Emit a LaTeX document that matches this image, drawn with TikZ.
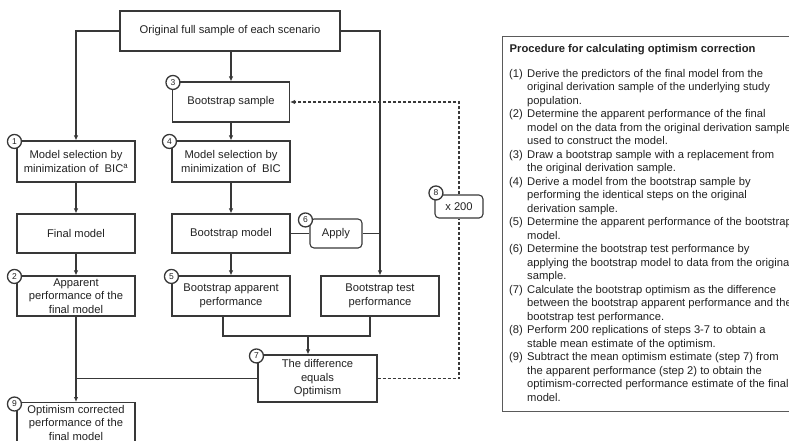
\documentclass[tikz,border=0pt]{standalone}
\usepackage{fontspec}
\setmainfont{Liberation Sans}
\usetikzlibrary{arrows.meta,calc}
\definecolor{ln}{HTML}{383838}
\definecolor{txt}{HTML}{222222}
\definecolor{ln2}{HTML}{5A5A5A}
\begin{document}
\begin{tikzpicture}[x=1pt,y=-1pt,
  every node/.style={font=\fontsize{11.2}{13.5}\selectfont, text=txt},
  box/.style={draw=ln, line width=1.1pt, align=center, inner sep=2pt, fill=white},
  rbox/.style={box, rounded corners=4pt},
  num/.style={circle, draw=ln, line width=1.3pt, fill=white, inner sep=0pt, minimum size=14pt, font=\fontsize{8.5}{9}\selectfont},
  conn/.style={draw=ln, line width=1.1pt},
  arr/.style={conn, -{Latex[length=5pt,width=4.5pt]}},
  dashln/.style={conn, dash pattern=on 3pt off 2pt}
]
\useasboundingbox (0,0) rectangle (789,440);

% boxes
\node[box, minimum width=220, minimum height=40] (top) at (230,31) {Original full sample of each scenario};
\node[box, minimum width=117, minimum height=40] (b3) at (231,102) {Bootstrap sample};
\node[box, minimum width=118, minimum height=41] (b1) at (76,161.5) {Model selection by\\minimization of \ BIC\textsuperscript{a}};
\node[box, minimum width=118, minimum height=41] (b4) at (231,161.5) {Model selection by\\minimization of \ BIC};
\node[box, minimum width=118, minimum height=39] (fin) at (76,233.5) {Final model};
\node[box, minimum width=118, minimum height=39] (bm) at (231,233.5) {Bootstrap model};
\node[rbox, minimum width=52, minimum height=29] (apply) at (336,233.5) {Apply};
\node[box, minimum width=118, minimum height=40] (b2) at (76,296) {Apparent\\performance of the\\final model};
\node[box, minimum width=118, minimum height=40] (b5) at (231,296) {Bootstrap apparent\\performance};
\node[box, minimum width=118, minimum height=40] (bt) at (380,296) {Bootstrap test\\performance};
\node[box, minimum width=119, minimum height=47] (b7) at (317.5,378.5) {The difference\\equals\\Optimism};
\node[rbox, minimum width=48, minimum height=23] (b8) at (459,206.5) {x 200};
\node[box, minimum width=118, anchor=north, inner ysep=2.5pt] (b9) at (76,402) {Optimism corrected\\performance of the\\final model};

% connectors
\draw[arr] (top.west) -| (b1.north);
\draw[arr] (top.south -| b3.north) -- (b3.north);
\draw[arr] (top.east) -| (bt.north);
\draw[arr] (b3.south) -- (b4.north);
\draw[arr] (b1.south) -- (fin.north);
\draw[arr] (b4.south) -- (bm.north);
\draw[arr] (fin.south) -- (b2.north);
\draw[arr] (bm.south) -- (b5.north);
\draw[conn] (bm.east) -- (apply.west);
\draw[conn] (apply.east) -- (apply.east -| bt.north);
\coordinate (j) at (308,336);
\draw[conn] ([xshift=-8pt]b5.south) |- (j) -| ([xshift=-10pt]bt.south);
\draw[arr] (j) -- (b7.north -| j);
\draw[conn] (b7.west) -- (b7.west -| b2.south);
\draw[arr] (b2.south) -- (b9.north);
\draw[dashln] (b7.east) -| (b8.south);
\draw[dashln, -{Latex[length=5pt,width=4.5pt]}] (b8.north) |- (b3.east);

% step numbers
\node[num] (n1) at ([shift={(-2,1)}]b1.north west) {1};
\node[num] (n2) at ([shift={(-2,1)}]b2.north west) {2};
\node[num] (n3) at ([shift={(1,1)}]b3.north west) {3};
\node[num] (n4) at ([shift={(-2,1)}]b4.north west) {4};
\node[num] (n5) at ([shift={(0,1)}]b5.north west) {5};
\node[num] (n6) at ([shift={(-4,1.5)}]apply.north west) {6};
\node[num] (n7) at ([shift={(-1,1.5)}]b7.north west) {7};
\node[num] (n8) at ([shift={(1.5,-1.5)}]b8.north west) {8};
\node[num] (n9) at ([shift={(-2,2)}]b9.north west) {9};

% procedure panel
\draw[draw=ln2, line width=0.9pt] (502.5,36.5) rectangle (800,411.5);
\node[anchor=base west, inner sep=0pt, font=\fontsize{11.2}{13.5}\selectfont\bfseries] (title) at (509.5,52) {Procedure for calculating optimism correction};
\node[anchor=base west, inner sep=0pt] (list) at (509,77.3) {%
\begin{tabular}[t]{@{}l@{}}
\makebox[18pt][l]{(1)}Derive the predictors of the final model from the\\
\hspace*{18pt}original derivation sample of the underlying study\\
\hspace*{18pt}population.\\
\makebox[18pt][l]{(2)}Determine the apparent performance of the final\\
\hspace*{18pt}model on the data from the original derivation sample\\
\hspace*{18pt}used to construct the model.\\
\makebox[18pt][l]{(3)}Draw a bootstrap sample with a replacement from\\
\hspace*{18pt}the original derivation sample.\\
\makebox[18pt][l]{(4)}Derive a model from the bootstrap sample by\\
\hspace*{18pt}performing the identical steps on the original\\
\hspace*{18pt}derivation sample.\\
\makebox[18pt][l]{(5)}Determine the apparent performance of the bootstrap\\
\hspace*{18pt}model.\\
\makebox[18pt][l]{(6)}Determine the bootstrap test performance by\\
\hspace*{18pt}applying the bootstrap model to data from the original\\
\hspace*{18pt}sample.\\
\makebox[18pt][l]{(7)}Calculate the bootstrap optimism as the difference\\
\hspace*{18pt}between the bootstrap apparent performance and the\\
\hspace*{18pt}bootstrap test performance.\\
\makebox[18pt][l]{(8)}Perform 200 replications of steps 3-7 to obtain a\\
\hspace*{18pt}stable mean estimate of the optimism.\\
\makebox[18pt][l]{(9)}Subtract the mean optimism estimate (step 7) from\\
\hspace*{18pt}the apparent performance (step 2) to obtain the\\
\hspace*{18pt}optimism-corrected performance estimate of the final\\
\hspace*{18pt}model.
\end{tabular}};
\end{tikzpicture}
\end{document}
